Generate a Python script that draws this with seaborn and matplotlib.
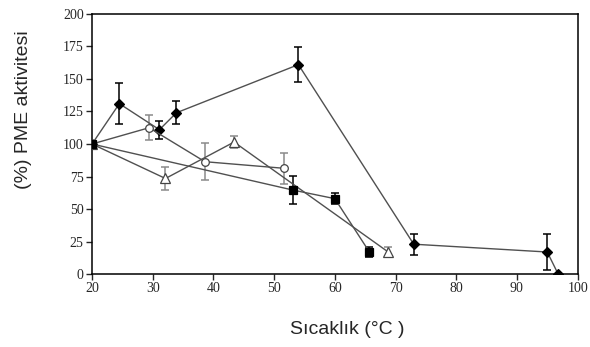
import numpy as np
import pandas as pd
import matplotlib
matplotlib.use("Agg")
import matplotlib.pyplot as plt
import seaborn as sns

# diamond series
dia_x = [20, 24.5, 31.1, 33.9, 54.0, 73.0, 95.0, 96.8]
dia_y = [100, 131, 111, 124, 161, 23, 17, 0]
dia_e = [0, 16, 7, 9, 13.5, 8, 14, 0]

# open circle series
cir_x = [20, 29.4, 38.6, 51.7]
cir_y = [100, 112.5, 86.4, 81.3]
cir_e = [0, 9.5, 14, 12]

# open triangle series
tri_x = [20, 32.1, 43.4, 68.8]
tri_y = [100, 73.5, 101.5, 17]
tri_e = [0, 8.5, 4.5, 4]

# filled square series
sq_x = [20, 53.1, 60.0, 65.7]
sq_y = [100, 64.6, 58, 17]
sq_e = [0, 10.5, 4, 3.5]

sns.set_style("ticks")
plt.rcParams['font.family'] = ['Liberation Serif', 'DejaVu Serif']

fig = plt.figure(figsize=(5.9, 3.47), dpi=100)
ax = fig.add_axes([0.156, 0.21, 0.823, 0.75])

line_col = '#505050'
series = [
    (dia_x, dia_y, dia_e, 'D', 'black', 'black', 'black', 4.6),
    (cir_x, cir_y, cir_e, 'o', 'white', '#444444', '#8a8a8a', 5.5),
    (tri_x, tri_y, tri_e, '^', 'white', '#444444', '#8a8a8a', 7),
    (sq_x, sq_y, sq_e, 's', 'black', 'black', 'black', 5.8),
]
for x, y, e, m, fc, ec, bc, ms in series:
    ax.errorbar(x, y, yerr=e, fmt='none', ecolor=bc, elinewidth=1.1,
                capsize=3.2, capthick=1.1, zorder=2)
    df = pd.DataFrame({'x': x, 'y': y})
    sns.lineplot(data=df, x='x', y='y', ax=ax, sort=False, color=line_col,
                 linewidth=1.0, marker=m, markersize=ms, markerfacecolor=fc,
                 markeredgecolor=ec, markeredgewidth=0.9, zorder=3)

ax.set_xlim(20, 100)
ax.set_ylim(0, 200)
ax.set_xticks(np.arange(20, 101, 10))
ax.set_yticks(np.arange(0, 201, 25))
ax.tick_params(direction='out', length=4, width=1, labelsize=10, pad=2)
for s in ax.spines.values():
    s.set_linewidth(1.1)
    s.set_color('black')

ax.set_xlabel('')
ax.set_ylabel('')
fig.text(0.588, 0.05, 'Sıcaklık (°C )', ha='center', va='center',
         fontsize=14, family=['Liberation Sans', 'DejaVu Sans'])
fig.text(0.04, 0.683, '(%) PME aktivitesi', ha='center', va='center',
         rotation=90, fontsize=14, family=['Liberation Sans', 'DejaVu Sans'])

fig.savefig('out.png', dpi=100)
